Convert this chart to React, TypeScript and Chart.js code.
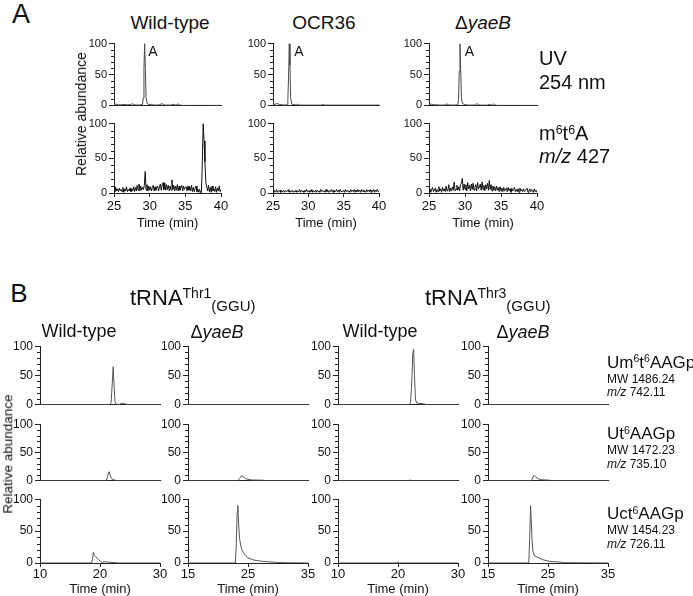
import React, { useEffect, useRef } from 'react';
import { Chart, registerables } from 'chart.js';
Chart.register(...registerables);

const FONT = 'Arial, "Liberation Sans", Helvetica, sans-serif';
const AXIS = '#222';
const TXT = '#111';

// ---------- ticks ----------
const yTicksMajor = [0, 50, 100];
const yTicksMinor = [10, 20, 30, 40, 60, 70, 80, 90];
const aTimeTicks = [25, 30, 35, 40];
const bTimeTicksA = [10, 20, 30];
const bTimeTicksB = [15, 25, 35];

// ---------- Panel A : UV 254 nm ----------
const uvWildTime = [25, 25.3, 25.6, 26.0, 26.4, 26.7, 27.0, 27.3, 27.6, 27.9, 28.3, 28.7, 29.0, 29.1, 29.2, 29.3, 29.4, 29.5, 29.65, 29.9, 30.3, 30.9, 31.4, 31.7, 31.95, 32.3, 32.9, 33.1, 33.3, 33.55, 33.8, 34.0, 34.2, 34.5, 36, 38, 40];
const uvWildValue = [1.5, 2, 1, 1, 1.5, 1, 1, 1.5, 2.5, 1, 0.5, 1, 1.5, 12, 60, 100, 58, 12, 3, 1.5, 1, 0.5, 1, 3, 1, 0.5, 0.5, 1, 2, 0.5, 1, 2.5, 1, 0, 0, 0, 0];

const uvOcrTime = [25, 25.3, 25.6, 25.9, 26.3, 26.7, 27.0, 27.1, 27.2, 27.3, 27.4, 27.5, 27.65, 28.0, 28.3, 28.5, 28.7, 29.5, 31.0, 31.9, 32.1, 32.3, 33.5, 35, 37, 40];
const uvOcrValue = [1, 2, 3, 1.5, 1, 0.5, 1, 8, 45, 100, 65, 12, 2, 1, 1, 2, 0.5, 0.5, 0.5, 0.5, 1.5, 0.5, 0.5, 0.5, 0.5, 0.5];

const uvYaeTime = [25, 25.3, 25.6, 26.0, 26.5, 27.0, 27.3, 27.5, 27.7, 28.0, 28.5, 29.0, 29.1, 29.2, 29.3, 29.4, 29.5, 29.65, 30.0, 30.6, 31.2, 31.45, 31.65, 31.85, 32.3, 32.9, 33.1, 33.3, 33.6, 33.8, 33.95, 34.1, 34.4, 35.5, 37, 40];
const uvYaeValue = [1.5, 2, 1, 1, 0.5, 0.5, 1, 2.5, 1, 0.5, 0.5, 1, 10, 55, 100, 60, 12, 3, 1, 0.5, 0.5, 1, 3, 1, 0.5, 0.5, 0.5, 1.5, 0.5, 1, 2.5, 1, 0, 0, 0, 0];

// ---------- Panel A : m6t6A m/z 427 (sampled every msStep min from msStart) ----------
const msStart = 25;
const msStep = 0.125;
const msWildValue = [
  9, 2, 8, 3, 6, 2, 7, 3, 5,
  2, 8, 1, 6, 3, 9, 2, 5,
  3, 7, 2, 6, 3, 9, 2, 8,
  3, 11, 4, 13,
  3, 10, 4, 8,
  5, 11, 31, 4,
  12, 3, 10, 4,
  9, 3, 8, 11, 3, 9, 4, 8,
  10, 3, 9, 13, 4, 11, 15, 5,
  14, 4, 12, 5, 11, 3, 10, 4,
  19, 5, 11, 3, 10, 4, 12, 3,
  10, 4, 8, 11, 3, 10, 5, 8,
  9, 3, 10, 4, 9, 3, 11, 2,
  8, 2, 7, 10, 2, 6, 1, 5,
  1, 0, 40, 100, 75, 45, 15, 9,
  3, 11, 2, 8, 1, 10, 3, 6,
  2, 9, 1, 7, 3, 10, 2, 5,
];
const msOcrValue = [
  4, 1, 3, 2, 5, 1, 3, 2, 4,
  1, 3, 2, 4, 1, 3, 2, 4,
  2, 5, 1, 3, 2, 4, 1, 3,
  2, 4, 1, 3,
  2, 5, 1, 4,
  2, 3, 1, 4,
  2, 5, 2, 3,
  1, 4, 2, 5, 1, 3, 2, 4,
  1, 4, 2, 3, 1, 5, 2, 4,
  2, 3, 1, 5, 2, 4, 1, 3,
  2, 5, 2, 4, 1, 3, 2, 5,
  2, 4, 1, 5, 2, 3, 2, 4,
  1, 5, 2, 4, 2, 3, 1, 5,
  2, 4, 2, 5, 1, 4, 2, 5,
  2, 4, 1, 5, 2, 4, 2, 3,
  1, 5, 2, 4, 2, 5, 1, 4,
  2, 5, 1, 4, 2, 5, 2, 3,
];
const msYaeValue = [
  2, 6, 1, 5, 8, 2, 4, 7, 1,
  5, 2, 9, 3, 6, 1, 8, 3,
  6, 2, 10, 3, 4, 12, 2, 7,
  3, 9, 4, 16,
  3, 5, 11, 4,
  9, 3, 12, 14,
  21, 4, 13, 5,
  12, 3, 15, 6, 11, 3, 13, 5,
  14, 4, 8, 12, 3, 15, 6, 8,
  13, 4, 16, 5, 11, 3, 12, 6,
  14, 4, 18, 5, 12, 3, 10, 4,
  9, 3, 10, 4, 8, 2, 9, 3,
  7, 2, 8, 3, 6, 7, 2, 8,
  3, 6, 1, 7, 3, 5, 8, 2,
  5, 2, 6, 1, 7, 3, 5, 2,
  6, 2, 3, 5, 7, 1, 4, 6,
  2, 5, 3, 1, 6, 2, 4, 1,
];
const msTime = (vals: number[]) => vals.map((_, i) => msStart + i * msStep);

// ---------- Panel B ----------
const thr1WtUmTime = [10, 21.6, 21.85, 22.0, 22.2, 22.35, 22.5, 22.75, 23.2, 23.6, 23.9, 24.3, 24.8, 30];
const thr1WtUmValue = [0, 0, 4, 30, 65, 32, 5, 1, 0.5, 2.5, 3, 1, 0, 0];
const thr1WtUtTime = [10, 21.0, 21.2, 21.4, 21.55, 21.7, 21.9, 22.2, 22.6, 23.0, 30];
const thr1WtUtValue = [0, 0, 5, 14, 16, 10, 4, 2, 1, 0, 0];
const thr1WtUctTime = [10, 18.6, 18.75, 18.9, 19.05, 19.25, 19.5, 19.8, 20.1, 20.4, 20.7, 21.2, 21.8, 22.5, 23.0, 30];
const thr1WtUctValue = [0, 0, 6, 17, 12, 10, 8, 5, 2, 1, 2, 1.5, 1, 0.5, 0, 0];

const thr1YaeUmTime = [15, 35];
const thr1YaeUmValue = [0, 0];
const thr1YaeUtTime = [15, 23.3, 23.6, 23.9, 24.2, 24.6, 25.0, 25.6, 26.5, 27.5, 28.0, 35];
const thr1YaeUtValue = [0, 0, 4, 9, 7, 4, 2.5, 1.5, 1.2, 1, 0, 0];
const thr1YaeUctTime = [15, 22.9, 23.05, 23.2, 23.3, 23.45, 23.6, 23.8, 24.0, 24.4, 25.0, 25.8, 27.0, 28.3, 29.6, 31.0, 35];
const thr1YaeUctValue = [0, 0, 30, 80, 90, 60, 38, 27, 20, 14, 8, 5, 3, 2, 1, 0.5, 0];

const thr3WtUmTime = [10, 21.9, 22.1, 22.3, 22.45, 22.6, 22.75, 22.9, 23.1, 23.5, 24.0, 24.5, 25.0, 30];
const thr3WtUmValue = [0, 0, 5, 40, 85, 95, 50, 10, 3, 2.5, 2, 1, 0, 0];
const thr3WtUtTime = [10, 21.7, 22.0, 22.3, 30];
const thr3WtUtValue = [0, 0, 1.5, 0, 0];
const thr3WtUctTime = [10, 19.8, 20.0, 20.2, 30];
const thr3WtUctValue = [0, 0, 2, 0, 0];

const thr3YaeUmTime = [15, 35];
const thr3YaeUmValue = [0, 0];
const thr3YaeUtTime = [15, 22.2, 22.45, 22.65, 22.9, 23.3, 23.8, 24.5, 25.3, 25.6, 35];
const thr3YaeUtValue = [0, 0, 5, 10, 7, 4, 2, 1.5, 1, 0, 0];
const thr3YaeUctTime = [15, 21.8, 21.95, 22.1, 22.2, 22.35, 22.5, 22.7, 23.0, 23.5, 24.2, 25.0, 26.0, 27.0, 27.5, 35];
const thr3YaeUctValue = [0, 0, 40, 90, 70, 35, 18, 12, 10, 8, 5, 3, 2, 1.5, 0.5, 0];

// ---------- layout ----------
const Y_W = 30;
const PAD_T = 8;
const PAD_R = 12;

type Spec = {
  L: number; R: number; T: number; B: number;
  xMin: number; xMax: number; xTicks: number[];
  t: number[]; v: number[]; color: string;
  bottom: boolean; yFont: number; tickPad: number; xH: number;
};

const aCols = [{ L: 114, R: 221 }, { L: 273, R: 379 }, { L: 429, R: 537 }];
const aRows = [{ T: 43, B: 112 }, { T: 123, B: 193 }];
const aTraces = [
  [[uvWildTime, uvWildValue], [uvOcrTime, uvOcrValue], [uvYaeTime, uvYaeValue]],
  [[msTime(msWildValue), msWildValue], [msTime(msOcrValue), msOcrValue], [msTime(msYaeValue), msYaeValue]],
];
const bCols = [
  { L: 40, R: 160, xMin: 10, xMax: 30, xTicks: bTimeTicksA },
  { L: 188, R: 308, xMin: 15, xMax: 35, xTicks: bTimeTicksB },
  { L: 338, R: 458, xMin: 10, xMax: 30, xTicks: bTimeTicksA },
  { L: 488, R: 608, xMin: 15, xMax: 35, xTicks: bTimeTicksB },
];
const bRows = [{ T: 345, B: 412 }, { T: 423, B: 488 }, { T: 498, B: 563 }];
const bTraces = [
  [[thr1WtUmTime, thr1WtUmValue], [thr1YaeUmTime, thr1YaeUmValue], [thr3WtUmTime, thr3WtUmValue], [thr3YaeUmTime, thr3YaeUmValue]],
  [[thr1WtUtTime, thr1WtUtValue], [thr1YaeUtTime, thr1YaeUtValue], [thr3WtUtTime, thr3WtUtValue], [thr3YaeUtTime, thr3YaeUtValue]],
  [[thr1WtUctTime, thr1WtUctValue], [thr1YaeUctTime, thr1YaeUctValue], [thr3WtUctTime, thr3WtUctValue], [thr3YaeUctTime, thr3YaeUctValue]],
];

const specs: Spec[] = [];
aRows.forEach((row, ri) => aCols.forEach((col, ci) => {
  const bottom = ri === aRows.length - 1;
  specs.push({
    ...col, ...row, xMin: 25, xMax: 40, xTicks: aTimeTicks,
    t: aTraces[ri][ci][0], v: aTraces[ri][ci][1],
    color: ri === 0 ? '#4a4a4a' : '#111',
    bottom, yFont: 11, tickPad: 2, xH: bottom ? 38 : 2,
  });
}));
bRows.forEach((row, ri) => bCols.forEach((col, ci) => {
  const bottom = ri === bRows.length - 1;
  specs.push({
    L: col.L, R: col.R, T: row.T, B: row.B, xMin: col.xMin, xMax: col.xMax, xTicks: col.xTicks,
    t: bTraces[ri][ci][0], v: bTraces[ri][ci][1],
    color: '#555', bottom, yFont: 12, tickPad: 0, xH: bottom ? 34 : 2,
  });
}));

const minorTickPlugin = {
  id: 'minorTicks',
  afterDraw(chart: any) {
    const y = chart.scales.y;
    const ctx = chart.ctx;
    const left = chart.chartArea.left;
    ctx.save();
    ctx.strokeStyle = AXIS;
    ctx.lineWidth = 1;
    ctx.beginPath();
    for (const v of yTicksMinor) {
      const py = Math.round(y.getPixelForValue(v)) + 0.5;
      ctx.moveTo(left - 3, py);
      ctx.lineTo(left, py);
    }
    ctx.stroke();
    ctx.restore();
  },
};

function MiniChart({ s }: { s: Spec }) {
  const ref = useRef<HTMLCanvasElement>(null);
  const W = s.R - s.L + Y_W + PAD_R;
  const H = s.B - s.T + PAD_T + s.xH;
  useEffect(() => {
    const chart = new Chart(ref.current as HTMLCanvasElement, {
      type: 'line',
      data: {
        datasets: [{
          data: s.t.map((x, i) => ({ x, y: s.v[i] })),
          borderColor: s.color, borderWidth: 1, pointRadius: 0, tension: 0, fill: false,
        }],
      },
      options: {
        animation: false, responsive: false, maintainAspectRatio: false, devicePixelRatio: 1,
        events: [],
        layout: { padding: { top: PAD_T, right: PAD_R, left: 0, bottom: 0 } },
        plugins: { legend: { display: false }, tooltip: { enabled: false } },
        scales: {
          x: {
            type: 'linear', min: s.xMin, max: s.xMax, z: 1,
            afterBuildTicks: (sc: any) => { sc.ticks = s.xTicks.map((value) => ({ value })); },
            afterFit: (sc: any) => { sc.height = s.xH; },
            grid: { display: s.bottom, drawOnChartArea: false, drawTicks: true, tickLength: 4, color: AXIS },
            border: { display: true, color: AXIS, width: 1 },
            ticks: { display: s.bottom, autoSkip: false, maxRotation: 0, padding: s.tickPad, color: TXT, font: { size: 13, family: FONT } },
            title: { display: s.bottom, text: 'Time (min)', color: TXT, font: { size: 13, family: FONT }, padding: 0 },
          },
          y: {
            type: 'linear', min: 0, max: 100, z: 1,
            afterBuildTicks: (sc: any) => { sc.ticks = yTicksMajor.map((value) => ({ value })); },
            afterFit: (sc: any) => { sc.width = Y_W; },
            grid: { drawOnChartArea: false, drawTicks: true, tickLength: 5, color: AXIS },
            border: { display: true, color: AXIS, width: 1 },
            ticks: { padding: 2, color: TXT, font: { size: s.yFont, family: FONT } },
          },
        },
      } as any,
      plugins: [minorTickPlugin],
    });
    return () => chart.destroy();
  }, []);
  return (
    <canvas ref={ref} width={W} height={H}
      style={{ position: 'absolute', left: s.L - Y_W, top: s.T - PAD_T, width: W, height: H }} />
  );
}

type TxtProps = { x: number; y: number; size: number; align?: 'center' | 'left'; rotate?: boolean; children: React.ReactNode; style?: React.CSSProperties };
function Txt({ x, y, size, align = 'center', rotate, children, style }: TxtProps) {
  const tr = align === 'center' ? 'translate(-50%, -50%)' : 'translate(0, -50%)';
  return (
    <div style={{
      position: 'absolute', left: x, top: y, fontSize: size, lineHeight: 1, whiteSpace: 'nowrap',
      fontFamily: FONT, color: TXT, transform: rotate ? `${tr} rotate(-90deg)` : tr, ...style,
    }}>{children}</div>
  );
}

const Sup = ({ children, s = 0.62, up = -0.5 }: { children: React.ReactNode; s?: number; up?: number }) => (
  <span style={{ fontSize: `${s}em`, position: 'relative', top: `${up}em` }}>{children}</span>
);
const Delta = ({ name }: { name: string }) => (<span>Δ<i>{name}</i></span>);

const aTitles = [{ x: 170, label: 'Wild-type' }, { x: 324, label: 'OCR36' }];
const aPeakLabels = [{ x: 153 }, { x: 299 }, { x: 469.5 }];
const bColTitles = [{ x: 79, label: 'Wild-type' }, { x: 380, label: 'Wild-type' }];
const bDeltaTitles = [{ x: 217 }, { x: 523 }];
const bCompounds = [
  { y: 361.5, mw: 'MW 1486.24', mz: '742.11', name: (<>Um<Sup>6</Sup>t<Sup>6</Sup>AAGp</>) },
  { y: 433, mw: 'MW 1472.23', mz: '735.10', name: (<>Ut<Sup>6</Sup>AAGp</>) },
  { y: 513, mw: 'MW 1454.23', mz: '726.11', name: (<>Uct<Sup>6</Sup>AAGp</>) },
];

export default function App() {
  return (
    <div style={{ position: 'absolute', left: 0, top: 0, width: 693, height: 596, background: '#fff', overflow: 'hidden', fontFamily: FONT }}>
      {specs.map((s, i) => <MiniChart key={i} s={s} />)}

      {/* Panel A */}
      <Txt x={21} y={14} size={27}>A</Txt>
      {aTitles.map((t, i) => <Txt key={i} x={t.x} y={21.5} size={19}>{t.label}</Txt>)}
      <Txt x={483} y={21.5} size={19}><Delta name="yaeB" /></Txt>
      {aPeakLabels.map((p, i) => <Txt key={i} x={p.x} y={51} size={14}>A</Txt>)}
      <Txt x={80.5} y={114} size={14} rotate>Relative abundance</Txt>
      <Txt x={539} y={58} size={20} align="left">UV</Txt>
      <Txt x={539} y={82} size={20} align="left">254 nm</Txt>
      <Txt x={539} y={133} size={20} align="left">m<Sup>6</Sup>t<Sup>6</Sup>A</Txt>
      <Txt x={539} y={155.5} size={20} align="left"><i>m/z</i> 427</Txt>

      {/* Panel B */}
      <Txt x={19} y={292.5} size={26}>B</Txt>
      <Txt x={130} y={298} size={22} align="left">tRNA<span style={{ fontSize: 14, position: 'relative', top: -7 }}>Thr1</span><span style={{ fontSize: 15, position: 'relative', top: 6 }}>(GGU)</span></Txt>
      <Txt x={425} y={298} size={22} align="left">tRNA<span style={{ fontSize: 14, position: 'relative', top: -7 }}>Thr3</span><span style={{ fontSize: 15, position: 'relative', top: 6 }}>(GGU)</span></Txt>
      {bColTitles.map((t, i) => <Txt key={i} x={t.x} y={331} size={18}>{t.label}</Txt>)}
      {bDeltaTitles.map((t, i) => <Txt key={i} x={t.x} y={332} size={18}><Delta name="yaeB" /></Txt>)}
      <Txt x={8} y={454} size={13.5} rotate>Relative abundance</Txt>
      {bCompounds.map((c, i) => (
        <React.Fragment key={i}>
          <Txt x={607} y={c.y} size={17} align="left">{c.name}</Txt>
          <Txt x={607} y={c.y + 17} size={12} align="left">{c.mw}</Txt>
          <Txt x={607} y={c.y + 30.5} size={12} align="left"><i>m/z</i> {c.mz}</Txt>
        </React.Fragment>
      ))}
    </div>
  );
}
